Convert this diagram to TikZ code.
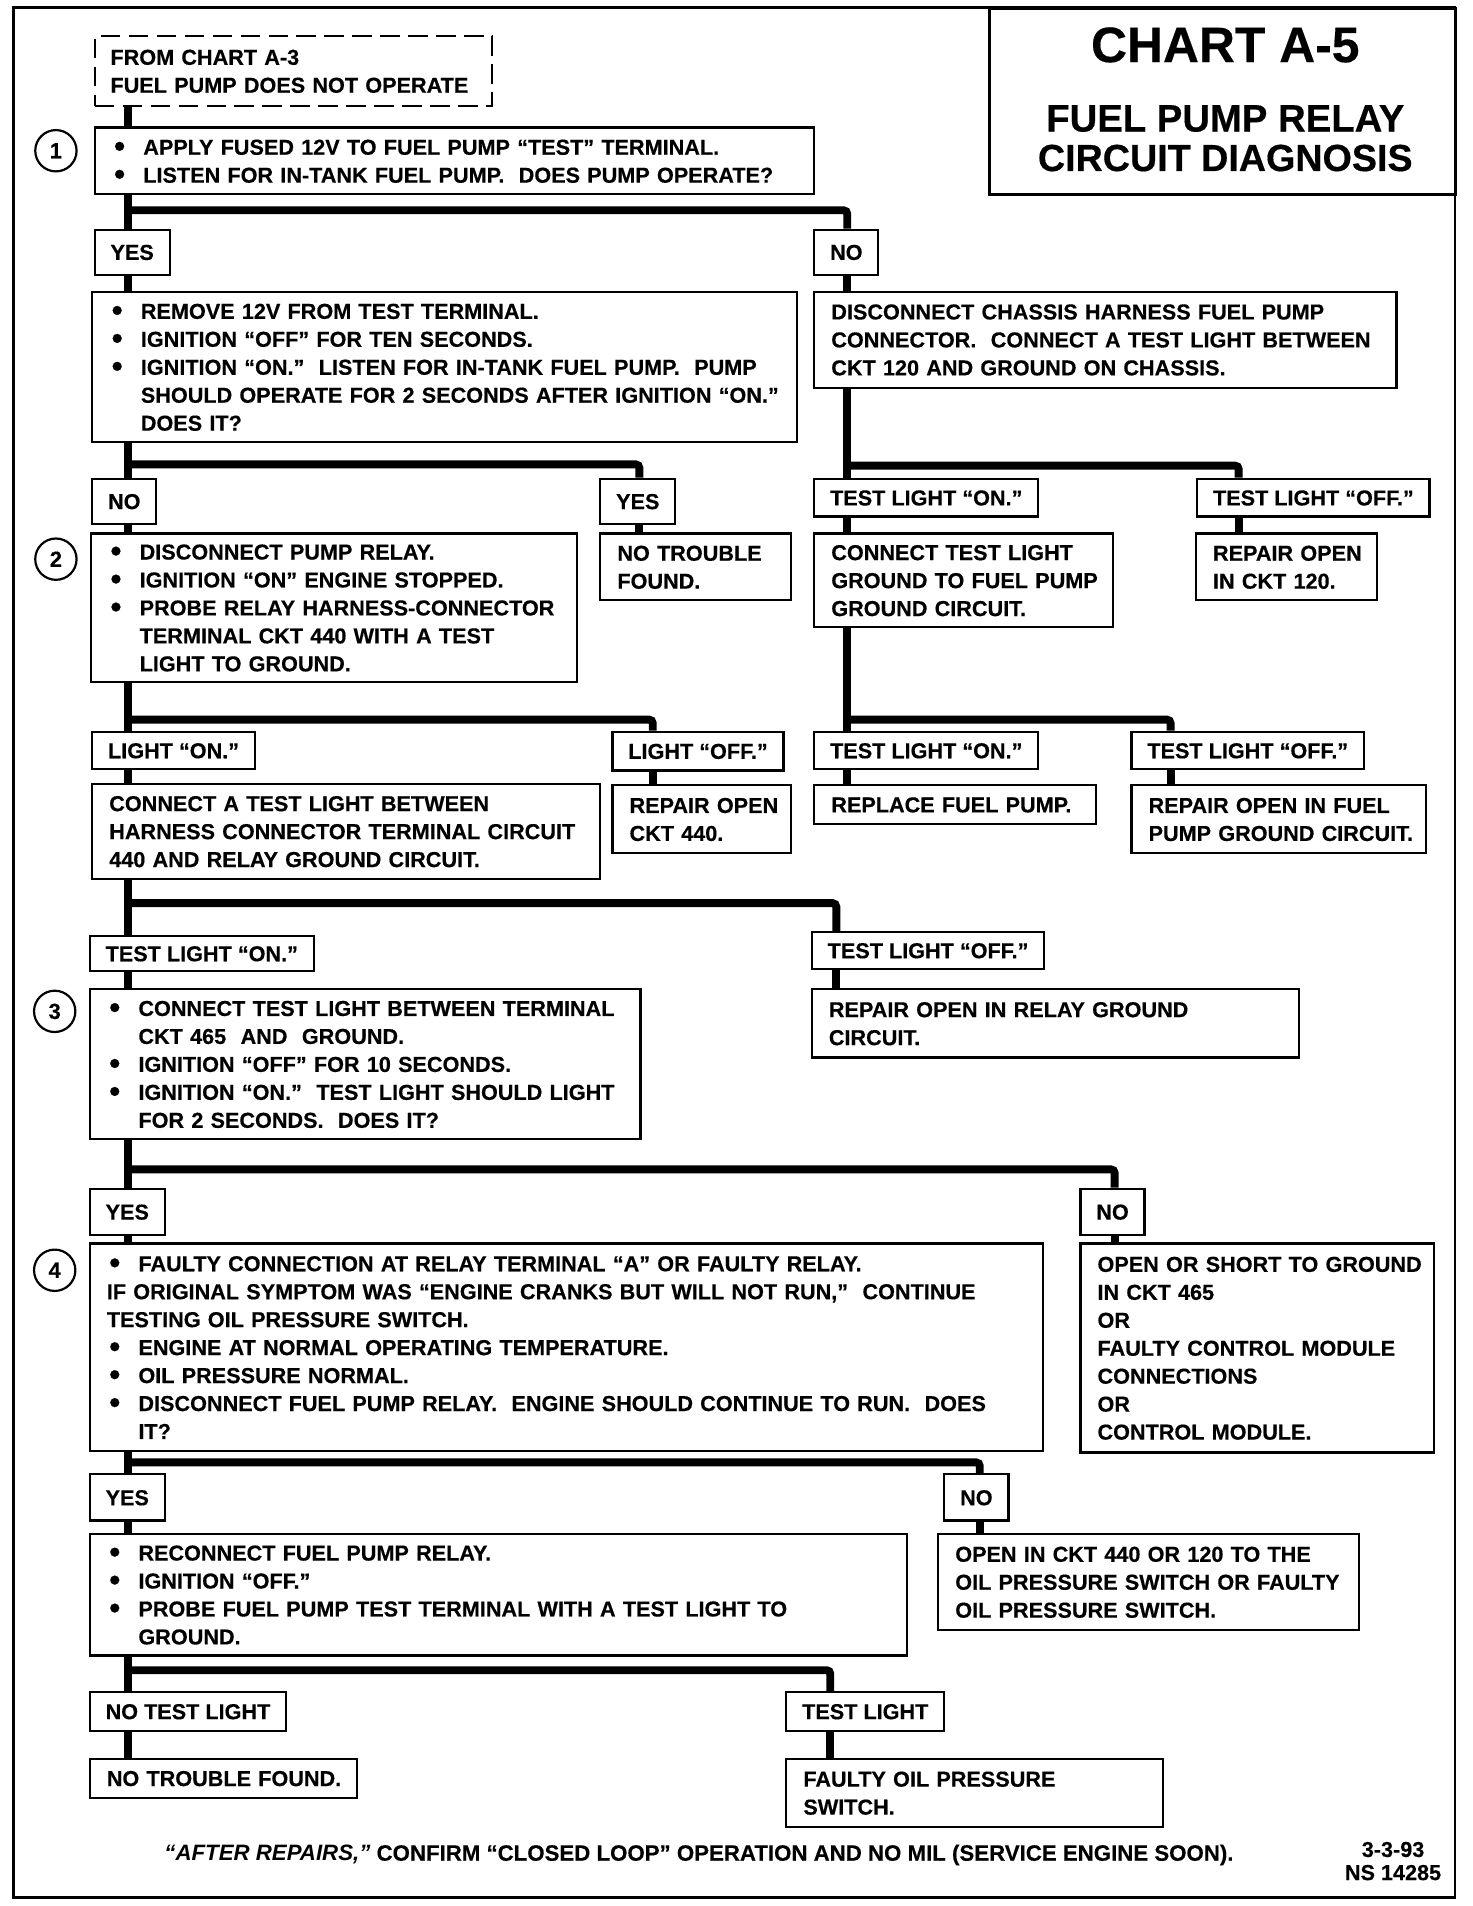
\documentclass[tikz,border=0pt]{standalone}
\usepackage{fontspec}
\setmainfont{Liberation Sans}[BoldFeatures={FakeBold=0.4}]
\usetikzlibrary{calc}
\newcommand{\bu}{\makebox[26pt][l]{\hspace{2pt}\raisebox{-1.6pt}{\scalebox{1.45}{\textbullet}}}}
\newcommand{\ind}{\hspace*{26pt}}
\newcommand{\lns}[1]{\raisebox{-1.8pt}[\height][\depth]{\begin{tabular}{@{}l@{}}#1\end{tabular}}}
\begin{document}
\begin{tikzpicture}[x=1pt,y=-1pt,
  every node/.style={font=\bfseries\fontsize{17.8}{23}\selectfont},
  wd/.code={\pgfmathsetmacro\tw{#1-28}\edef\tmp{\noexpand\tikzset{text width=\tw pt}}\tmp},
  box/.style={draw, line width=1.8pt, fill=white, anchor=north west, inner xsep=14pt, inner ysep=0pt, align=left},
  lbl/.style={draw, line width=1.8pt, fill=white, anchor=north west, inner xsep=13pt, inner ysep=0pt, text height=12.8pt, text depth=0pt},
  circ/.style={draw, circle, line width=1.8pt, minimum size=34pt, inner sep=0pt, font=\bfseries\fontsize{18}{18}\selectfont},
  conn/.style={line width=6.5pt, rounded corners=3pt},
]
\useasboundingbox (0,0) rectangle (1211,1568);
% frame and title
\draw[line width=2pt] (11,6) rectangle (1197,1561);
\node[draw, line width=2pt, anchor=north west, minimum width=384pt, minimum height=153pt, inner sep=0pt] (title) at (813,6) {};
\node[font=\bfseries\fontsize{41}{41}\selectfont, inner sep=0pt] (tA) at (1008,37) {CHART A-5};
\node[font=\bfseries\fontsize{31.5}{31.5}\selectfont, inner sep=0pt] (tB) at (1008,97.5) {FUEL PUMP RELAY};
\node[font=\bfseries\fontsize{31}{31}\selectfont, inner sep=0pt] (tC) at (1008,130) {CIRCUIT DIAGNOSIS};

% coordinates for trunks and bars
\coordinate (L) at (105,0);
\coordinate (R) at (697,0);
\coordinate (xA) at (526,0);
\coordinate (xB) at (1019,0);
\coordinate (xC) at (537,0);
\coordinate (xD) at (963,0);
\coordinate (xE) at (688,0);
\coordinate (xF) at (917,0);
\coordinate (xG) at (806,0);
\coordinate (xH) at (683,0);
\coordinate (y1) at (0,173);
\coordinate (y2) at (0,382);
\coordinate (y3) at (0,383);
\coordinate (y4) at (0,592);
\coordinate (y5) at (0,592);
\coordinate (y6) at (0,743);
\coordinate (y7) at (0,962);
\coordinate (y8) at (0,1203);
\coordinate (y9) at (0,1374);

% start
\node[draw, line width=1.8pt, dash pattern=on 16pt off 7pt, anchor=north west, align=left, inner xsep=13pt, inner ysep=0pt, minimum width=327pt, minimum height=57pt, text width=301pt] (dash) at (77,29) {\lns{FROM CHART A-3\\FUEL PUMP DOES NOT OPERATE}};

% step circles
\node[circ] (c1) at (46,124) {1};
\node[circ] (c2) at (46,460) {2};
\node[circ] (c3) at (45,832) {3};
\node[circ] (c4) at (45,1045) {4};

% row 1
\node[box, wd=592, minimum height=55pt] (b1) at (77,104) {\lns{\bu APPLY FUSED 12V TO FUEL PUMP “TEST” TERMINAL.\\\bu LISTEN FOR IN-TANK FUEL PUMP.~ DOES PUMP OPERATE?}};
\node[lbl, minimum height=37pt] (yes1) at (77,188) {YES};
\node[lbl, minimum height=37pt] (no1) at (669,188) {NO};

\node[box, wd=580, minimum height=124pt] (b2) at (75,239) {\lns{\bu REMOVE 12V FROM TEST TERMINAL.\\\bu IGNITION “OFF” FOR TEN SECONDS.\\\bu IGNITION “ON.”~ LISTEN FOR IN-TANK FUEL PUMP.~ PUMP\\\ind SHOULD OPERATE FOR 2 SECONDS AFTER IGNITION “ON.”\\\ind DOES IT?}};
\node[box, wd=479, minimum height=79pt] (b2r) at (669,239) {\lns{DISCONNECT CHASSIS HARNESS FUEL PUMP\\CONNECTOR.~ CONNECT A TEST LIGHT BETWEEN\\CKT 120 AND GROUND ON CHASSIS.}};

\node[lbl, minimum height=37pt] (no2) at (75,393) {NO};
\node[lbl, minimum height=37pt] (yes2) at (493,393) {YES};
\node[lbl, minimum height=31pt] (tlon1) at (669,393) {TEST LIGHT “ON.”};
\node[lbl, minimum height=31pt] (tloff1) at (984,393) {TEST LIGHT “OFF.”};

\node[box, wd=400, minimum height=122pt] (b3) at (74,438) {\lns{\bu DISCONNECT PUMP RELAY.\\\bu IGNITION “ON” ENGINE STOPPED.\\\bu PROBE RELAY HARNESS-CONNECTOR\\\ind TERMINAL CKT 440 WITH A TEST\\\ind LIGHT TO GROUND.}};
\node[box, wd=157, minimum height=55pt] (ntf1) at (493,438) {\lns{NO TROUBLE\\FOUND.}};
\node[box, wd=246, minimum height=77pt] (ctl) at (669,438) {\lns{CONNECT TEST LIGHT\\GROUND TO FUEL PUMP\\GROUND CIRCUIT.}};
\node[box, wd=149, minimum height=55pt] (ro120) at (983,438) {\lns{REPAIR OPEN\\IN CKT 120.}};

\node[lbl, minimum height=31pt] (lon) at (75,601) {LIGHT “ON.”};
\node[lbl, minimum height=32pt] (loff) at (503,601) {LIGHT “OFF.”};
\node[lbl, minimum height=31pt] (tlon2) at (669,601) {TEST LIGHT “ON.”};
\node[lbl, minimum height=31pt] (tloff2) at (930,601) {TEST LIGHT “OFF.”};

\node[box, wd=418, minimum height=78pt] (b4) at (75,644) {\lns{CONNECT A TEST LIGHT BETWEEN\\HARNESS CONNECTOR TERMINAL CIRCUIT\\440 AND RELAY GROUND CIRCUIT.}};
\node[box, wd=147, minimum height=56pt] (ro440) at (503,645) {\lns{REPAIR OPEN\\CKT 440.}};
\node[box, wd=232, minimum height=32pt] (rfp) at (669,645) {\lns{REPLACE FUEL PUMP.}};
\node[box, wd=242, minimum height=56pt] (rofg) at (930,645) {\lns{REPAIR OPEN IN FUEL\\PUMP GROUND CIRCUIT.}};

\node[lbl, minimum height=29pt] (tlon3) at (73,769) {TEST LIGHT “ON.”};
\node[lbl, minimum height=30pt] (tloff3) at (667,766) {TEST LIGHT “OFF.”};

\node[box, wd=453, minimum height=123pt] (b5) at (73,813) {\lns{\bu CONNECT TEST LIGHT BETWEEN TERMINAL\\\ind CKT 465~ AND~ GROUND.\\\bu IGNITION “OFF” FOR 10 SECONDS.\\\bu IGNITION “ON.”~ TEST LIGHT SHOULD LIGHT\\\ind FOR 2 SECONDS.~ DOES IT?}};
\node[box, wd=401, minimum height=56pt] (rorg) at (667,813) {\lns{REPAIR OPEN IN RELAY GROUND\\CIRCUIT.}};

\node[lbl, minimum height=38pt] (yes3) at (73,977) {YES};
\node[lbl, minimum height=38pt] (no3) at (888,977) {NO};

\node[box, wd=784, minimum height=171pt] (b6) at (73,1022) {\lns{\bu FAULTY CONNECTION AT RELAY TERMINAL “A” OR FAULTY RELAY.\\IF ORIGINAL SYMPTOM WAS “ENGINE CRANKS BUT WILL NOT RUN,”~ CONTINUE\\TESTING OIL PRESSURE SWITCH.\\\bu ENGINE AT NORMAL OPERATING TEMPERATURE.\\\bu OIL PRESSURE NORMAL.\\\bu DISCONNECT FUEL PUMP RELAY.~ ENGINE SHOULD CONTINUE TO RUN.~ DOES\\\ind IT?}};
\node[box, wd=291, minimum height=172pt] (osg) at (888,1022) {\lns{OPEN OR SHORT TO GROUND\\IN CKT 465\\OR\\FAULTY CONTROL MODULE\\CONNECTIONS\\OR\\CONTROL MODULE.}};

\node[lbl, minimum height=38pt] (yes4) at (73,1212) {YES};
\node[lbl, minimum height=38pt] (no4) at (776,1212) {NO};

\node[box, wd=672, minimum height=100pt] (b7) at (73,1261) {\lns{\bu RECONNECT FUEL PUMP RELAY.\\\bu IGNITION “OFF.”\\\bu PROBE FUEL PUMP TEST TERMINAL WITH A TEST LIGHT TO\\\ind GROUND.}};
\node[box, wd=346, minimum height=79pt] (oc440) at (771,1261) {\lns{OPEN IN CKT 440 OR 120 TO THE\\OIL PRESSURE SWITCH OR FAULTY\\OIL PRESSURE SWITCH.}};

\node[lbl, minimum height=32pt] (ntl) at (73,1391) {NO TEST LIGHT};
\node[lbl, minimum height=32pt] (tl) at (646,1391) {TEST LIGHT};

\node[box, wd=220, minimum height=32pt] (ntf2) at (73,1446) {\lns{NO TROUBLE FOUND.}};
\node[box, wd=310, minimum height=56pt] (fops) at (646,1446) {\lns{FAULTY OIL PRESSURE\\SWITCH.}};

% footer
\node[font=\bfseries\fontsize{18.3}{20}\selectfont] (foot) at (575,1526) {\textit{“AFTER REPAIRS,”} CONFIRM “CLOSED LOOP” OPERATION AND NO MIL (SERVICE ENGINE SOON).};
\node[align=center, font=\bfseries\fontsize{17.8}{19}\selectfont, inner sep=0pt] (id) at (1146,1531) {3-3-93\\NS 14285};

% connectors
\draw[conn] (L |- dash.south) -- (L |- b1.north);
\draw[conn] (L |- b1.south) -- (L |- yes1.north);
\draw[conn] (L |- y1) -| (R |- no1.north);
\draw[conn] (L |- yes1.south) -- (L |- b2.north);
\draw[conn] (R |- no1.south) -- (R |- b2r.north);

\draw[conn] (L |- b2.south) -- (L |- no2.north);
\draw[conn] (L |- y2) -| (xA |- yes2.north);
\draw[conn] (L |- no2.south) -- (L |- b3.north);
\draw[conn] (xA |- yes2.south) -- (xA |- ntf1.north);

\draw[conn] (R |- b2r.south) -- (R |- tlon1.north);
\draw[conn] (R |- y3) -| (xB |- tloff1.north);
\draw[conn] (R |- tlon1.south) -- (R |- ctl.north);
\draw[conn] (xB |- tloff1.south) -- (xB |- ro120.north);

\draw[conn] (L |- b3.south) -- (L |- lon.north);
\draw[conn] (L |- y4) -| (xC |- loff.north);
\draw[conn] (L |- lon.south) -- (L |- b4.north);
\draw[conn] (xC |- loff.south) -- (xC |- ro440.north);

\draw[conn] (R |- ctl.south) -- (R |- tlon2.north);
\draw[conn] (R |- y5) -| (xD |- tloff2.north);
\draw[conn] (R |- tlon2.south) -- (R |- rfp.north);
\draw[conn] (xD |- tloff2.south) -- (xD |- rofg.north);

\draw[conn] (L |- b4.south) -- (L |- tlon3.north);
\draw[conn] (L |- y6) -| (xE |- tloff3.north);
\draw[conn] (L |- tlon3.south) -- (L |- b5.north);
\draw[conn] (xE |- tloff3.south) -- (xE |- rorg.north);

\draw[conn] (L |- b5.south) -- (L |- yes3.north);
\draw[conn] (L |- y7) -| (xF |- no3.north);
\draw[conn] (L |- yes3.south) -- (L |- b6.north);
\draw[conn] (xF |- no3.south) -- (xF |- osg.north);

\draw[conn] (L |- b6.south) -- (L |- yes4.north);
\draw[conn] (L |- y8) -| (xG |- no4.north);
\draw[conn] (L |- yes4.south) -- (L |- b7.north);
\draw[conn] (xG |- no4.south) -- (xG |- oc440.north);

\draw[conn] (L |- b7.south) -- (L |- ntl.north);
\draw[conn] (L |- y9) -| (xH |- tl.north);
\draw[conn] (L |- ntl.south) -- (L |- ntf2.north);
\draw[conn] (xH |- tl.south) -- (xH |- fops.north);
\end{tikzpicture}
\end{document}
